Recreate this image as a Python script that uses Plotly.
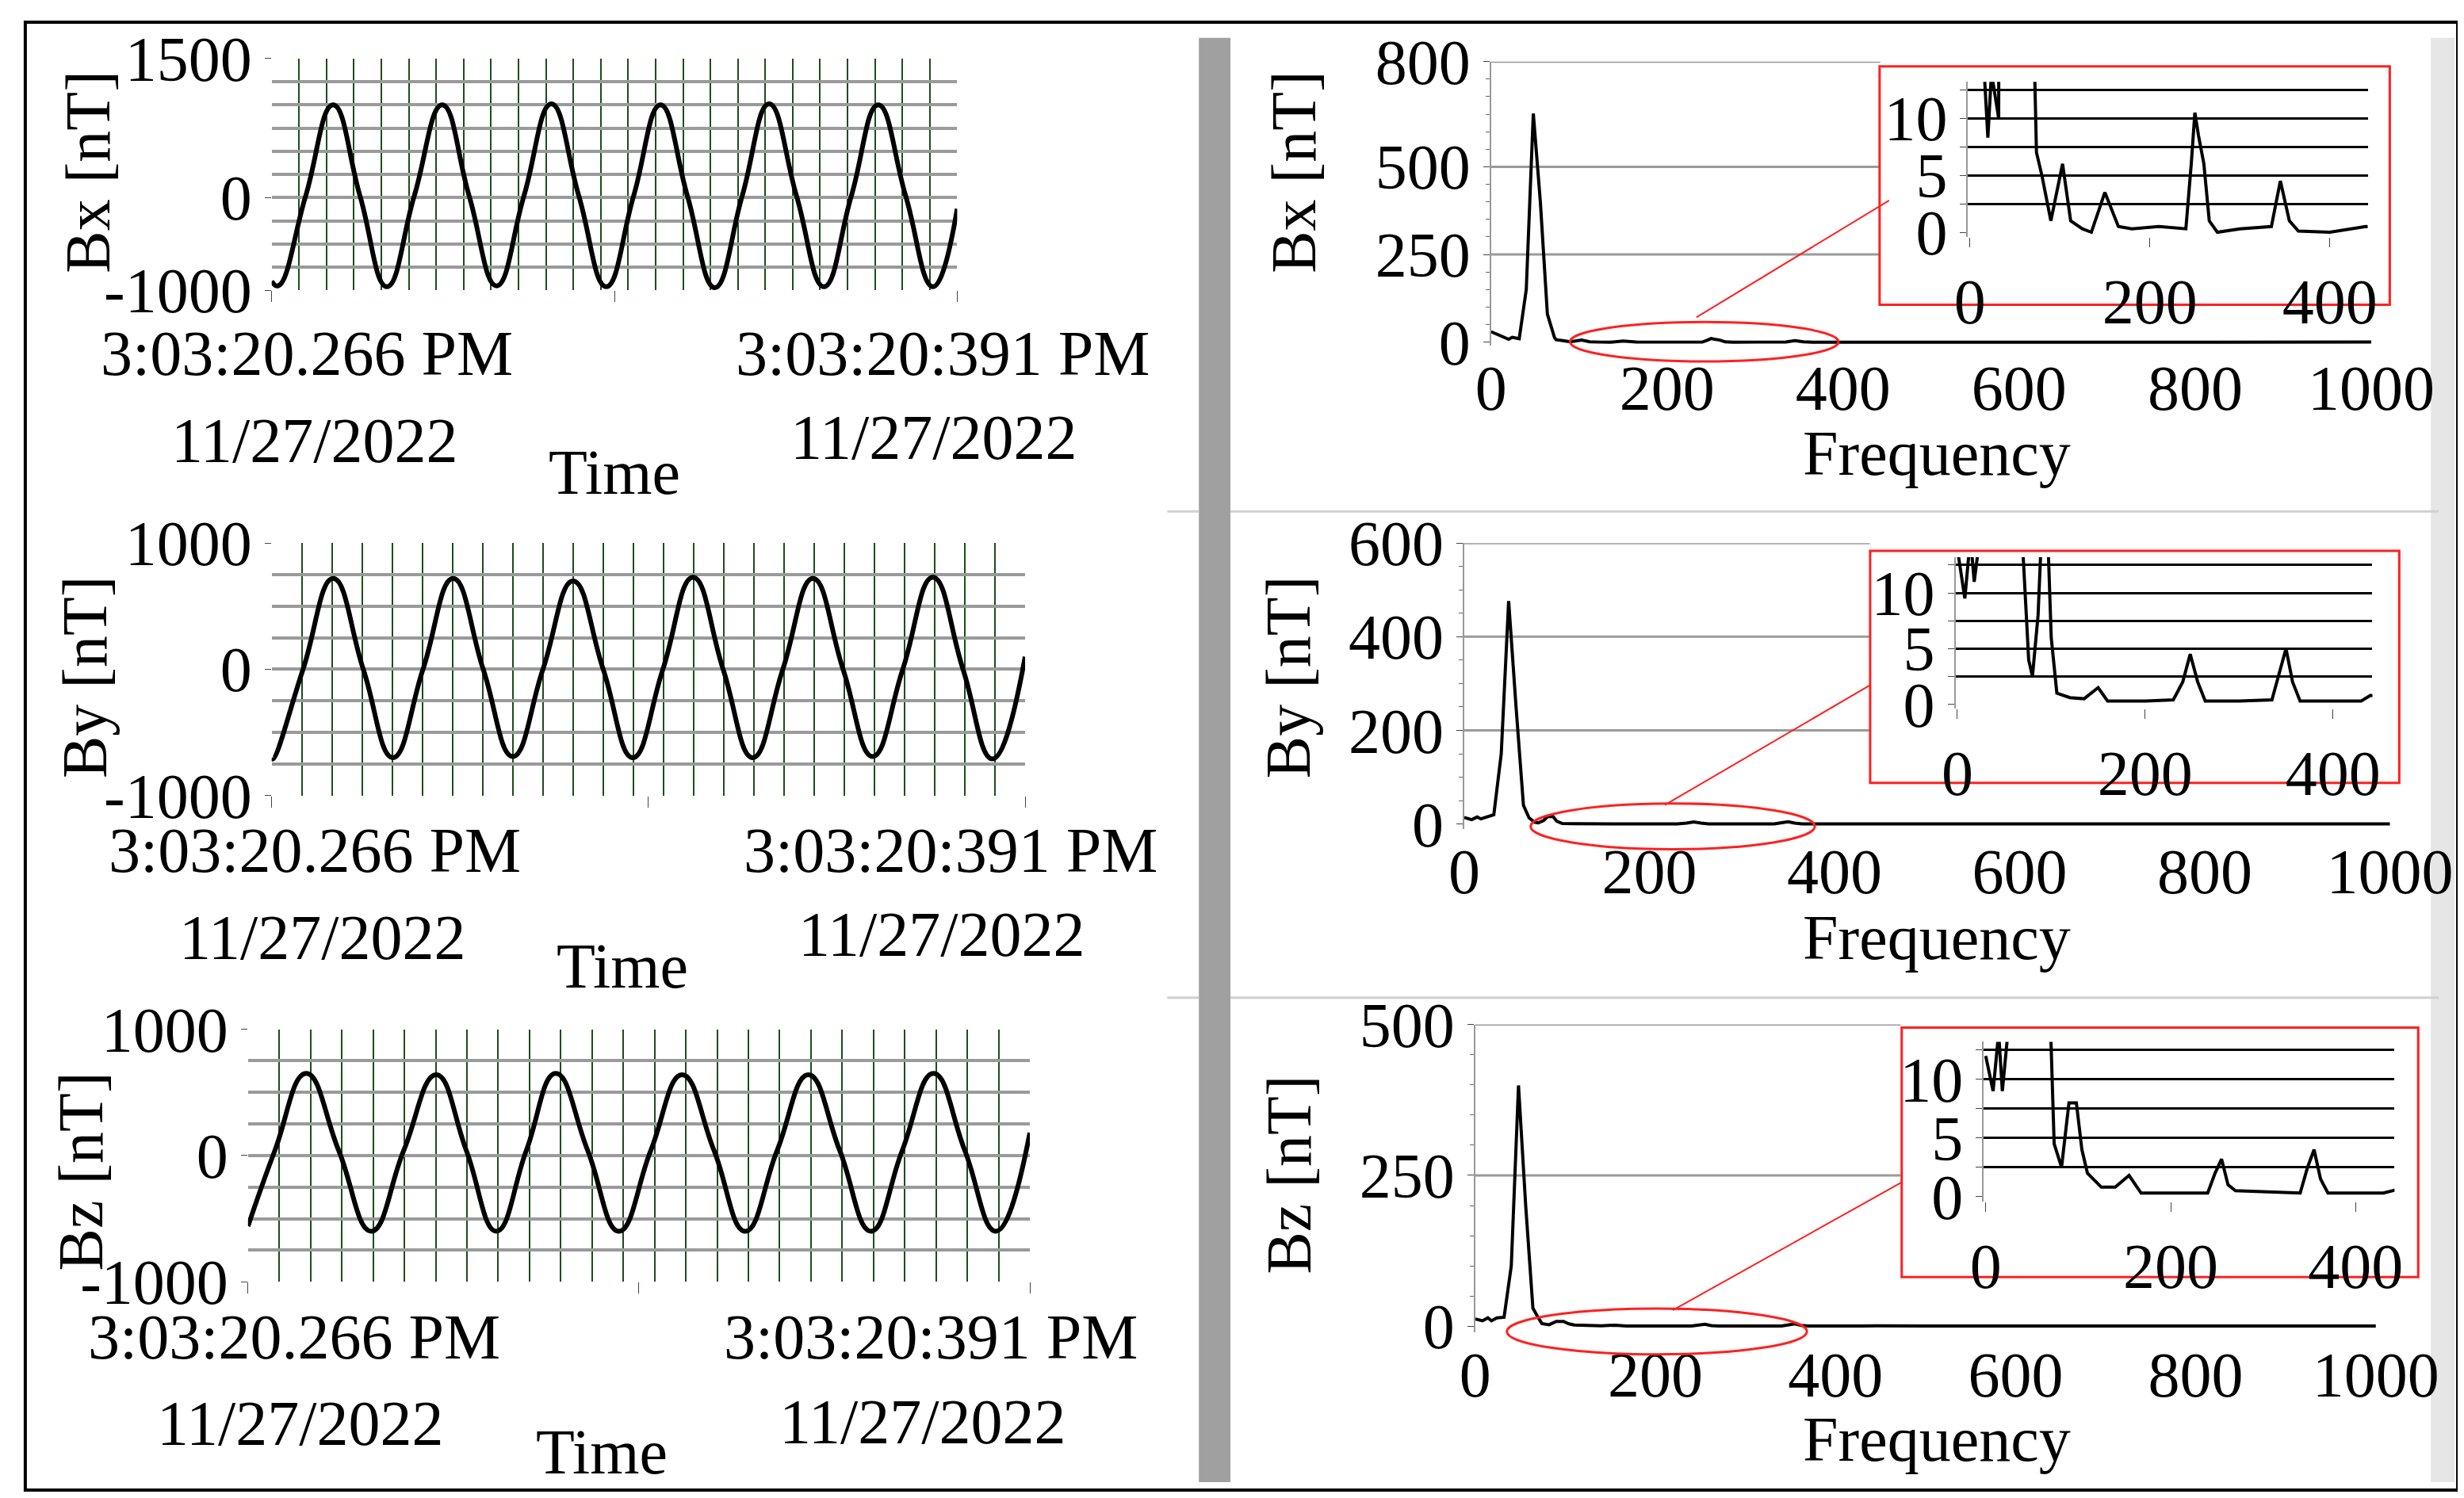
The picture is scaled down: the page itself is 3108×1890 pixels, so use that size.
import plotly.graph_objects as go

# ---------------- data ----------------
bx_t = [0, 1.2, 6.2, 11.2, 16.1, 21.0, 26.0, 31.1, 36.0, 41.0, 46.0, 51.0, 56.0, 61.0, 66.0, 70.9, 75.8, 80.8, 85.8, 90.7, 95.7, 100.7, 105.7, 110.6, 115.6, 120.6, 125]
bx_v = [-900, -950, 20, 1000, 20, -960, 20, 1000, 20, -950, 20, 1010, 20, -960, 20, 1000, 20, -970, 20, 1010, 20, -960, 20, 1000, 20, -960, -120]
by_t = [0, 0.2, 5.2, 10.2, 15.2, 20.1, 25.1, 30.1, 35.1, 40.0, 45.0, 50.0, 55.0, 59.9, 64.9, 69.9, 74.9, 79.8, 84.8, 89.8, 94.8, 99.7, 104.7, 109.7, 114.7, 119.6, 125]
by_v = [-700, -710, 0, 720, 0, -700, 0, 720, 0, -690, 0, 700, 0, -700, 0, 730, 0, -700, 0, 720, 0, -690, 0, 730, 0, -710, 100]
bz_t = [0, 4.3, 9.3, 14.5, 19.7, 24.9, 30.1, 34.9, 39.7, 44.5, 49.2, 54.3, 59.3, 64.4, 69.4, 74.5, 79.5, 84.6, 89.6, 94.6, 99.6, 104.6, 109.6, 114.6, 119.6, 125]
bz_v = [-560, 40, 650, 40, -600, 40, 640, 40, -600, 40, 650, 40, -600, 40, 640, 40, -600, 40, 640, 40, -600, 40, 650, 40, -600, 180]

fx_f = [0, 8, 16, 20, 24, 32, 40, 48, 56, 64, 72, 74, 80, 90, 103, 112, 125, 135, 150, 165, 180, 210, 240, 246, 250, 254, 260, 266, 275, 300, 335, 345, 355, 365, 400, 440, 500, 600, 700, 800, 900, 1000]
fx_v = [30, 22, 14, 8.3, 14, 10, 150, 652, 400, 80, 14, 7, 5, 1, 6, 1, 0.3, 0, 3.5, 0.5, 0.3, 0.5, 0.3, 6, 10.5, 8.5, 6, 1, 0, 0.3, 0.5, 4.5, 1, 0.1, 0, 0.5, 0.3, 0.3, 0.2, 0.3, 0.2, 0.3]
fy_f = [0, 8, 14, 18, 24, 32, 40, 48, 56, 64, 70, 76, 80, 86, 90, 96, 100, 106, 120, 135, 150, 160, 200, 230, 240, 248, 256, 264, 300, 335, 343, 350, 357, 365, 400, 430, 440, 500, 600, 700, 800, 900, 1000]
fy_v = [14, 9.5, 15, 11, 15, 20, 150, 476, 250, 40, 13.5, 4, 2.5, 8, 16, 16, 6, 1, 0.6, 0.5, 1.5, 0.3, 0.3, 0.4, 2, 4.5, 2, 0.3, 0.3, 0.4, 3, 5, 2, 0.3, 0.3, 0.3, 0.8, 0.3, 0.3, 0.3, 0.3, 0.3, 0.3]
fz_f = [0, 8, 14, 18, 24, 32, 40, 48, 56, 64, 70, 74, 82, 90, 98, 104, 110, 125, 140, 155, 168, 240, 248, 255, 262, 270, 340, 348, 355, 362, 370, 430, 445, 500, 600, 700, 800, 900, 1000]
fz_v = [12, 9, 14, 9, 14, 15, 100, 399, 200, 30, 14, 4.5, 2.5, 8, 8, 4, 2, 0.8, 0.8, 1.8, 0.3, 0.3, 2, 3.2, 1, 0.5, 0.3, 2.5, 4, 1.5, 0.3, 0.3, 0.6, 0.3, 0.3, 0.3, 0.3, 0.3, 0.3]

time_left = "3:03:20.266 PM"
time_right = "3:03:20:391 PM"
date_lbl = "11/27/2022"

W, H = 1560.0, 949.0
def px(v): return v / W
def py(v): return 1 - v / H

FONT = "Liberation Serif"
FS = 80
fig = go.Figure()

# ------------ time plots ------------
tplots = [
    (bx_t, bx_v, (168, 602), (33, 180), [-1000, 1500], [-1000, 0, 1500], ["-1000", "0", "1500"]),
    (by_t, by_v, (168, 645), (340, 500), [-1000, 1000], [-1000, 0, 1000], ["-1000", "0", "1000"]),
    (bz_t, bz_v, (153, 648), (648, 808), [-1000, 1000], [-1000, 0, 1000], ["-1000", "0", "1000"]),
]
for i, (t, v, xd, yd, yr, tv, tt) in enumerate(tplots):
    n = i + 1
    sx = "" if n == 1 else str(n)
    fig.add_trace(go.Scatter(x=t, y=v, mode="lines", line=dict(color="black", width=6, shape="spline", smoothing=1.3),
                             xaxis="x" + sx, yaxis="y" + sx, showlegend=False))
    fig.layout["xaxis" + sx] = dict(domain=[px(xd[0]), px(xd[1])], anchor="y" + sx, range=[0, 125], automargin=False,
                                  tickvals=[0, 62.5, 125], showticklabels=False, ticks="outside", ticklen=14,
                                  showgrid=False, zeroline=False, showline=False,
                                  minor=dict(dtick=5, showgrid=True, gridcolor="#1d4d1d", gridwidth=2))
    fig.layout["yaxis" + sx] = dict(domain=[py(yd[1]), py(yd[0])], anchor="x" + sx, range=yr, automargin=False,
                                  tickvals=tv, ticktext=tt, ticks="outside", ticklen=8,
                                  tickfont=dict(family=FONT, size=FS, color="black"),
                                  showgrid=True, gridcolor="#9a9a9a", gridwidth=4, zeroline=False,
                                  minor=dict(dtick=250, showgrid=True, gridcolor="#9a9a9a", gridwidth=4))

# ------------ spectra ------------
splots = [
    (fx_f, fx_v, (940, 1500), (35, 215), [-10, 800], [0, 250, 500, 800], 0.44),
    (fy_f, fy_v, (923, 1512), (340, 521), [-10, 600], [0, 200, 400, 600], 0.436),
    (fz_f, fz_v, (930, 1503), (645, 840), [-10, 500], [0, 250, 500], 0.47),
]
for i, (f, v, xd, yd, yr, tv, gx) in enumerate(splots):
    n = i + 4
    fig.add_trace(go.Scatter(x=f, y=v, mode="lines", line=dict(color="black", width=4),
                             xaxis="x%d" % n, yaxis="y%d" % n, showlegend=False))
    fig.layout["xaxis%d" % n] = dict(domain=[px(xd[0]), px(xd[1])], anchor="y%d" % n, range=[0, 1005], automargin=False,
                                   tickvals=[0, 200, 400, 600, 800, 1000], showgrid=False, zeroline=False,
                                   tickfont=dict(family=FONT, size=FS, color="black"))
    fig.layout["yaxis%d" % n] = dict(domain=[py(yd[1]), py(yd[0])], anchor="x%d" % n, range=yr, automargin=False,
                                   tickvals=tv, showgrid=False, zeroline=False, showline=True,
                                   linecolor="#999", linewidth=2, ticks="outside", ticklen=8,
                                   tickfont=dict(family=FONT, size=FS, color="black"),
                                   minor=dict(dtick=50, ticks="outside", ticklen=5, tickcolor="#666"))
    for g in tv[1:]:
        fig.add_shape(type="line", xref="x%d domain" % n, yref="y%d" % n, x0=0, x1=gx, y0=g, y1=g,
                      line=dict(color="#9a9a9a", width=3), layer="below")

# ------------ insets ------------
insets = [
    (fx_f, fx_v, (1242, 1495), (47.8, 146), (1186, 1509, 38, 189)),
    (fy_f, fy_v, (1234, 1498), (349, 445), (1180, 1515, 345, 492)),
    (fz_f, fz_v, (1252, 1512), (656, 757), (1200, 1527, 647, 805)),
]
for i, (f, v, xd, yd, box) in enumerate(insets):
    n = i + 7
    fig.add_shape(type="rect", xref="paper", yref="paper", x0=px(box[0]), x1=px(box[1]),
                  y0=py(box[3]), y1=py(box[2]), line=dict(color="#ff2020", width=3), fillcolor="white", layer="below")
    fig.add_trace(go.Scatter(x=f, y=v, mode="lines", line=dict(color="black", width=4),
                             xaxis="x%d" % n, yaxis="y%d" % n, showlegend=False))
    fig.layout["xaxis%d" % n] = dict(domain=[px(xd[0]), px(xd[1])], anchor="y%d" % n, range=[-2, 442], automargin=False,
                                   tickvals=[0, 200, 400], ticks="outside", ticklen=12, showgrid=False, zeroline=False,
                                   tickfont=dict(family=FONT, size=FS, color="black"))
    fig.layout["yaxis%d" % n] = dict(domain=[py(yd[1]), py(yd[0])], anchor="x%d" % n, range=[-0.4, 13.2], automargin=False,
                                   tickvals=[0, 5, 10], showgrid=False, zeroline=False, showline=True,
                                   linecolor="#999", linewidth=2, ticks="outside", ticklen=8,
                                   tickfont=dict(family=FONT, size=FS, color="black"),
                                   minor=dict(tickvals=[2.5, 5, 7.5, 10, 12.5], showgrid=True, gridcolor="black",
                                              gridwidth=3, ticks="outside", ticklen=8))

# red ellipses and connector lines
ell = [((990, 1160, 200, 225), (1070, 197, 1192, 123)),
       ((965, 1145, 505, 534), (1050, 506, 1180, 430)),
       ((950, 1140, 825, 854), (1055, 826, 1200, 745))]
for (e, l) in ell:
    fig.add_shape(type="circle", xref="paper", yref="paper", x0=px(e[0]), x1=px(e[1]), y0=py(e[3]), y1=py(e[2]),
                  line=dict(color="#ff2020", width=3))
    fig.add_shape(type="line", xref="paper", yref="paper", x0=px(l[0]), y0=py(l[1]), x1=px(l[2]), y1=py(l[3]),
                  line=dict(color="#ff2020", width=2))

# panels
fig.add_shape(type="rect", xref="paper", yref="paper", x0=px(755), x1=px(775), y0=py(935), y1=py(20),
              fillcolor="#a0a0a0", line=dict(width=0), layer="below")
fig.add_shape(type="rect", xref="paper", yref="paper", x0=px(1535), x1=px(1550), y0=py(935), y1=py(20),
              fillcolor="#e6e6e6", line=dict(width=0), layer="below")
for yy in (320, 628):
    fig.add_shape(type="line", xref="paper", yref="paper", x0=px(775), x1=px(1540), y0=py(yy), y1=py(yy),
                  line=dict(color="#d0d0d0", width=3), layer="below")
    fig.add_shape(type="line", xref="paper", yref="paper", x0=px(735), x1=px(755), y0=py(yy), y1=py(yy),
                  line=dict(color="#d0d0d0", width=3), layer="below")
fig.add_shape(type="rect", xref="paper", yref="paper", x0=px(12), x1=px(1552), y0=py(940), y1=py(10),
              line=dict(color="black", width=4))

# text
def ann(x, y, text, angle=0):
    fig.add_annotation(x=px(x), y=py(y), xref="paper", yref="paper", text=text, showarrow=False,
                       textangle=angle, font=dict(family=FONT, size=FS, color="black"),
                       xanchor="center", yanchor="middle")

tl = [((190, 220), (195, 275), (385, 295), (593, 220), (587, 273)),
      ((195, 535), (200, 590), (390, 608), (598, 535), (592, 588)),
      ((182, 843), (186, 898), (377, 916), (585, 843), (580, 897))]
for a in tl:
    ann(*a[0], time_left); ann(*a[1], date_lbl); ann(*a[2], "Time")
    ann(*a[3], time_right); ann(*a[4], date_lbl)
ann(52, 105, "Bx [nT]", -90); ann(50, 425, "By [nT]", -90); ann(47, 738, "Bz [nT]", -90)
ann(815, 105, "Bx [nT]", -90); ann(812, 425, "By [nT]", -90); ann(812, 740, "Bz [nT]", -90)
ann(1222, 283, "Frequency"); ann(1222, 590, "Frequency"); ann(1222, 908, "Frequency")

fig.update_layout(width=3108, height=1890, margin=dict(l=0, r=0, t=0, b=0), autosize=False,
                  paper_bgcolor="white", plot_bgcolor="rgba(0,0,0,0)")
fig.write_html("out.html")
